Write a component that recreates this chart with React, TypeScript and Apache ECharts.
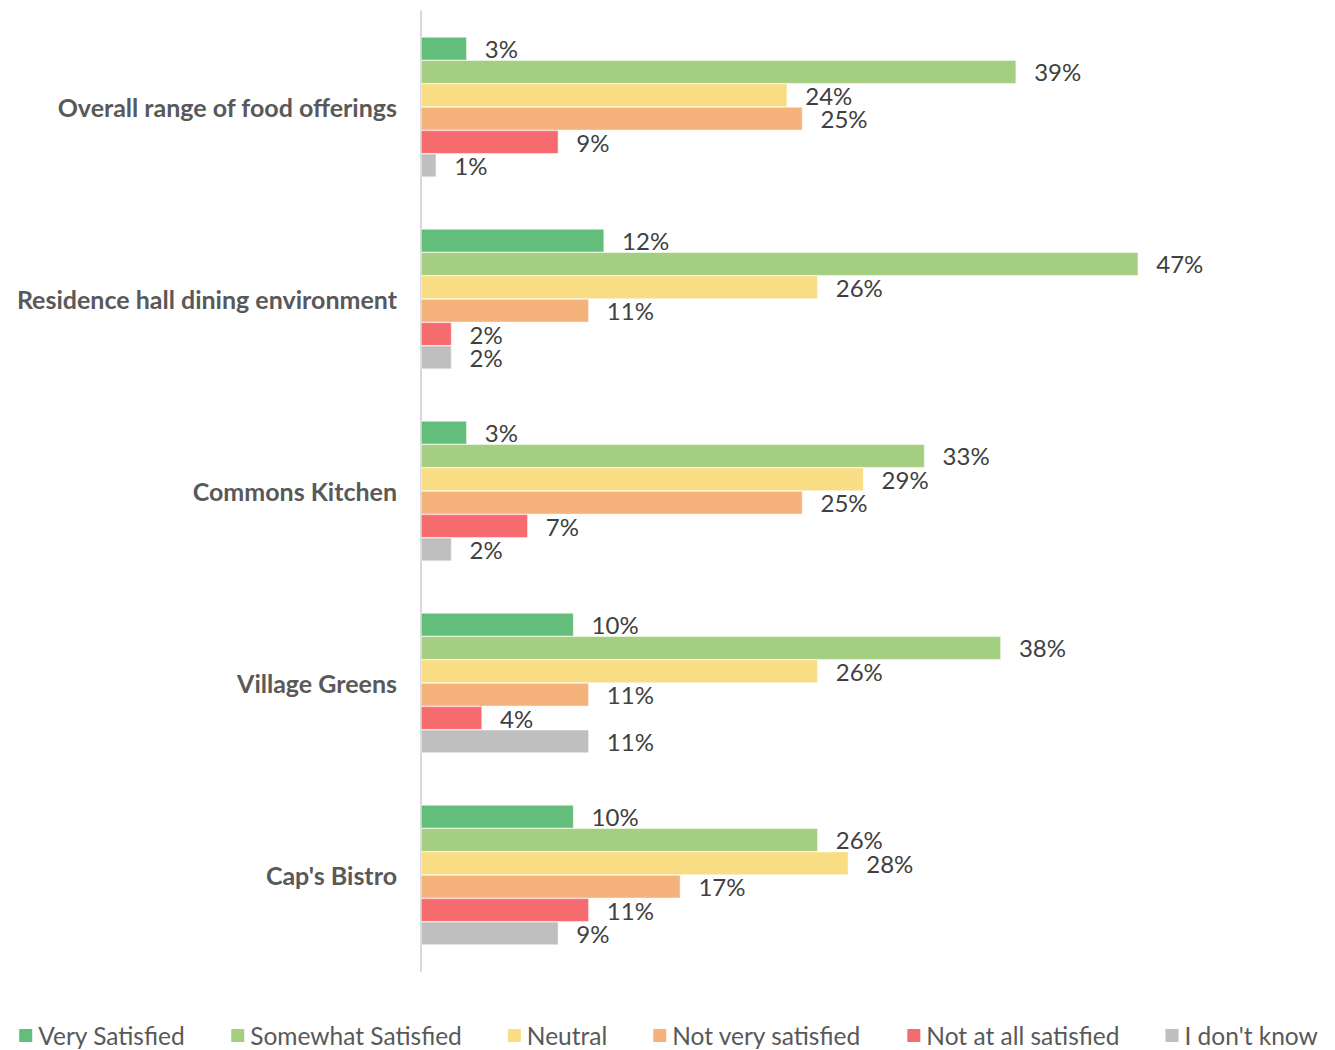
import React, { useEffect, useRef } from "react";
import * as echarts from "echarts";

const categories = [
  "Overall range of food offerings",
  "Residence hall dining environment",
  "Commons Kitchen",
  "Village Greens",
  "Cap's Bistro",
];
const seriesNames = [
  "Very Satisfied",
  "Somewhat Satisfied",
  "Neutral",
  "Not very satisfied",
  "Not at all satisfied",
  "I don't know",
];
const verySatisfied = [3, 12, 3, 10, 10];
const somewhatSatisfied = [39, 47, 33, 38, 26];
const neutral = [24, 26, 29, 26, 28];
const notVerySatisfied = [25, 11, 25, 11, 17];
const notAtAllSatisfied = [9, 2, 7, 4, 11];
const dontKnow = [1, 2, 2, 11, 9];
const colors = ["#63BE7B", "#A4CF81", "#F8DD85", "#F5B37B", "#F66B6F", "#BFBFBF"];

const FONT = "Lato, 'Liberation Sans', sans-serif";

export default function App() {
  const ref = useRef<HTMLDivElement>(null);
  useEffect(() => {
    if (!ref.current) return;
    const chart = echarts.init(ref.current, undefined, { renderer: "svg" });
    const values = [verySatisfied, somewhatSatisfied, neutral, notVerySatisfied, notAtAllSatisfied, dontKnow];
    chart.setOption({
      animation: false,
      color: colors,
      textStyle: { fontFamily: FONT },
      grid: { left: 421, top: 11, width: 763, height: 960, containLabel: false },
      legend: {
        data: seriesNames,
        top: 1023,
        left: "center",
        itemWidth: 15,
        itemHeight: 15,
        itemGap: 44,
        icon: "rect",
        padding: 0,
        textStyle: { fontSize: 24.5, color: "#595959", fontFamily: FONT, padding: [0, 0, 0, 0] },
      },
      xAxis: {
        type: "value",
        min: 0,
        max: 50,
        axisLine: { show: false },
        axisTick: { show: false },
        axisLabel: { show: false },
        splitLine: { show: false },
      },
      yAxis: {
        type: "category",
        data: categories,
        inverse: true,
        axisLine: { show: true, lineStyle: { color: "#D9D9D9", width: 2 } },
        axisTick: { show: false },
        axisLabel: {
          margin: 24,
          fontSize: 25,
          fontWeight: "bold",
          color: "#595959",
          fontFamily: FONT,
        },
      },
      series: seriesNames.map((name, i) => ({
        name,
        type: "bar",
        data: values[i],
        barGap: "0%",
        barCategoryGap: "27%",
        itemStyle: { color: colors[i], borderColor: "#ffffff", borderWidth: 0.5 },
        label: {
          show: true,
          position: "right",
          distance: 18,
          formatter: (p: any) => `${p.value}%`,
          fontSize: 24,
          lineHeight: 22,
          color: "#404040",
          fontFamily: FONT,
        },
      })),
    });
    return () => chart.dispose();
  }, []);
  return (
    <div
      ref={ref}
      style={{ position: "fixed", left: 0, top: 0, width: 1335, height: 1050, background: "#fff" }}
    />
  );
}
